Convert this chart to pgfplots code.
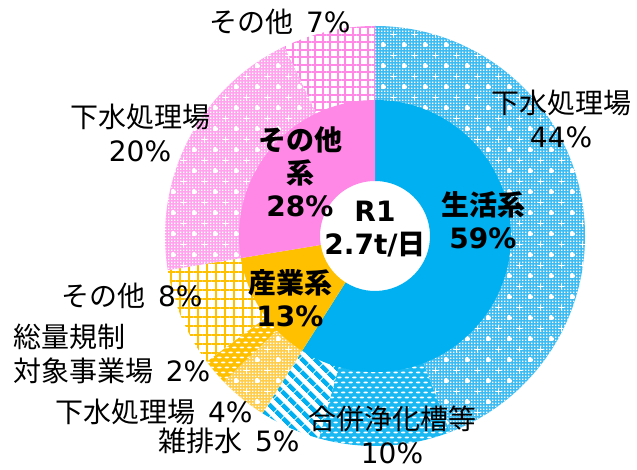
\documentclass[border=0pt]{standalone}
\usepackage{fontspec}
\setmainfont{DejaVu Sans}
\newfontfamily\jp{Noto Sans CJK JP}
\usepackage{pgfplots}
\pgfplotsset{compat=1.18}
\usepackage{pgfplotstable}
\usetikzlibrary{patterns,patterns.meta}

\definecolor{cblue}{HTML}{00B0F0}
\definecolor{corange}{HTML}{FFC000}
\definecolor{cpink}{HTML}{FF88E6}
\definecolor{lblue}{HTML}{3EBCF1}
\definecolor{lorange}{HTML}{FFCD4D}
\definecolor{lpink}{HTML}{FFA3ED}

\pgfdeclarepatternformonly{plusdots}{\pgfpoint{-1bp}{-1bp}}{\pgfpoint{22bp}{22bp}}{\pgfpoint{21bp}{21bp}}{%
  \pgfsetlinewidth{1.1bp}%
  \pgfpathmoveto{\pgfpoint{2.5bp}{5bp}}\pgfpathlineto{\pgfpoint{7.5bp}{5bp}}%
  \pgfpathmoveto{\pgfpoint{5bp}{2.5bp}}\pgfpathlineto{\pgfpoint{5bp}{7.5bp}}%
  \pgfpathmoveto{\pgfpoint{13bp}{15.5bp}}\pgfpathlineto{\pgfpoint{18bp}{15.5bp}}%
  \pgfpathmoveto{\pgfpoint{15.5bp}{13bp}}\pgfpathlineto{\pgfpoint{15.5bp}{18bp}}%
  \pgfusepath{stroke}%
  \foreach \i in {0,...,6}{\foreach \j in {0,...,6}{%
    \pgfpathrectangle{\pgfpoint{3*\i bp}{3*\j bp}}{\pgfpoint{1.3bp}{1.3bp}}}}%
  \pgfusepath{fill}}

\pgfdeclarepatternformonly{ovaldots}{\pgfpoint{-1bp}{-1bp}}{\pgfpoint{8.5bp}{11bp}}{\pgfpoint{7.5bp}{10bp}}{%
  \pgfpathellipse{\pgfpoint{1.9bp}{2.5bp}}{\pgfpoint{2.2bp}{0bp}}{\pgfpoint{0bp}{1bp}}%
  \pgfpathellipse{\pgfpoint{5.65bp}{7.5bp}}{\pgfpoint{2.2bp}{0bp}}{\pgfpoint{0bp}{1bp}}%
  \pgfusepath{fill}}

\tikzset{
 o0/.style={fill=lblue, postaction={pattern=plusdots, pattern color=white}},
 o1/.style={fill=cblue!90!white, postaction={pattern=ovaldots, pattern color=white}},
 o2/.style={fill=white, postaction={pattern={Lines[angle=-45,distance=10bp,line width=5bp]}, pattern color=cblue}},
 o3/.style={fill=lorange, postaction={pattern=plusdots, pattern color=white}},
 o4/.style={fill=corange, postaction={pattern=ovaldots, pattern color=white}},
 o5/.style={fill=white, postaction={pattern={Hatch[angle=0,distance=9bp,line width=2.5bp]}, pattern color=corange}},
 o6/.style={fill=lpink, postaction={pattern=plusdots, pattern color=white}},
 o7/.style={fill=white, postaction={pattern={Hatch[angle=0,distance=7.5bp,line width=2bp]}, pattern color=cpink}},
 i0/.style={fill=cblue},
 i1/.style={fill=corange},
 i2/.style={fill=cpink},
 lab/.style={inner sep=0pt, align=center, font={\fontsize{28bp}{34bp}\selectfont}},
 blab/.style={inner sep=0pt, align=center, font={\fontsize{28bp}{33bp}\selectfont\bfseries}},
}

% outer ring: share of each source (%)
\pgfplotstableread{
pct
44.2
10.1
4.7
3.8
2.0
7.6
20.5
7.1
}\outerdata
% inner ring: share of each sector (%)
\pgfplotstableread{
pct
59.0
13.4
27.6
}\innerdata

\def\cx{375}\def\cy{234}
\gdef\gcum{0}
\newcommand\seg[5]{% table, row, r in, r out, style
  \pgfplotstablegetelem{#2}{pct}\of{#1}%
  \pgfmathsetmacro\aS{90-3.6*\gcum}%
  \pgfmathsetmacro\newcum{\gcum+\pgfplotsretval}%
  \xdef\gcum{\newcum}%
  \pgfmathsetmacro\aE{90-3.6*\gcum}%
  \path[#5] (axis cs:\cx,\cy) ++(\aS:#4 bp) arc[start angle=\aS,end angle=\aE,radius=#4 bp]
     -- ([shift={(\aE:#3 bp)}]axis cs:\cx,\cy) arc[start angle=\aE,end angle=\aS,radius=#3 bp] -- cycle;
}

\begin{document}
\begin{tikzpicture}
\begin{axis}[x=1bp, y=1bp, xmin=0, xmax=637, ymin=0, ymax=470,
  hide axis, clip=false, scale only axis]
\pgfplotsextra{
  \path (axis cs:0,0) rectangle (axis cs:637,470);
  \gdef\gcum{0}
  \seg{\outerdata}{0}{135}{210}{o0}
  \seg{\outerdata}{1}{135}{210}{o1}
  \seg{\outerdata}{2}{135}{210}{o2}
  \seg{\outerdata}{3}{135}{210}{o3}
  \seg{\outerdata}{4}{135}{210}{o4}
  \seg{\outerdata}{5}{135}{210}{o5}
  \seg{\outerdata}{6}{135}{210}{o6}
  \seg{\outerdata}{7}{135}{210}{o7}
  \gdef\gcum{0}
  \seg{\innerdata}{0}{55}{136}{i0}
  \seg{\innerdata}{1}{55}{136}{i1}
  \seg{\innerdata}{2}{55}{136}{i2}
  % outer labels
  \node[lab] at (axis cs:280,448) {{\jp その他}\hspace{0.45em}7\%};
  \node[lab] at (axis cs:561,351) {{\jp 下水処理場}\\44\%};
  \node[lab] at (axis cs:140,337) {{\jp 下水処理場}\\20\%};
  \node[lab] at (axis cs:132,174) {{\jp その他}\hspace{0.45em}8\%};
  \node[lab, anchor=west, align=left] at (axis cs:13,116.5) {{\jp 総量規制}\\{\jp 対象事業場}\hspace{0.45em}2\%};
  \node[lab] at (axis cs:154,58) {{\jp 下水処理場}\hspace{0.45em}4\%};
  \node[lab] at (axis cs:229,29) {{\jp 雑排水}\hspace{0.45em}5\%};
  \node[lab] at (axis cs:392,35) {{\jp 合併浄化槽等}\\10\%};
  % inner labels
  \node[blab] at (axis cs:483,250) {{\jp 生活系}\\59\%};
  \node[blab] at (axis cs:375,241) {R1\\2.7t/{\jp 日}};
  \node[blab] at (axis cs:300,298) {{\jp その他}\\{\jp 系}\\28\%};
  \node[blab] at (axis cs:290,172) {{\jp 産業系}\\13\%};
}
\end{axis}
\end{tikzpicture}
\end{document}
